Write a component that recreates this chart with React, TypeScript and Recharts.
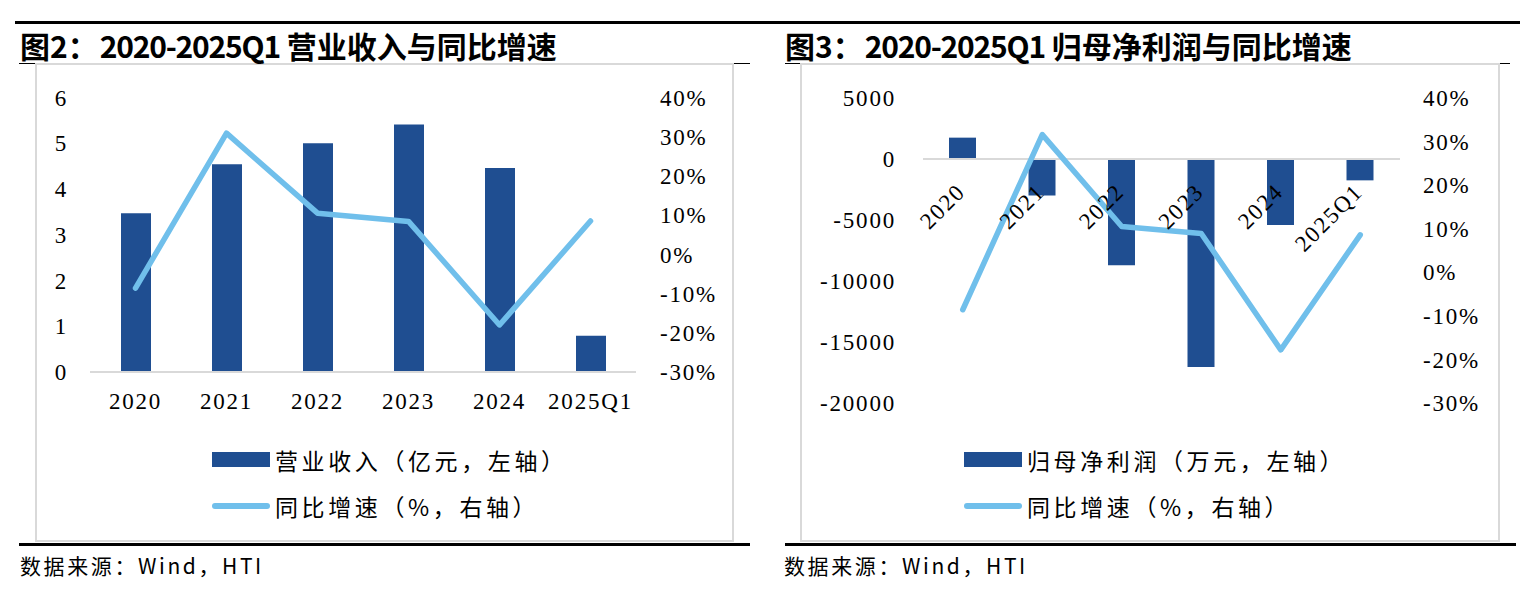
import React from "react";
import { ComposedChart, Bar, Line, XAxis, YAxis, ReferenceLine } from "recharts";

// categories and values
const years = ["2020", "2021", "2022", "2023", "2024", "2025Q1"];
const revenue = [3.47, 4.54, 5.0, 5.41, 4.46, 0.79]; // 亿元
const revenueYoY = [-8.6, 30.9, 10.5, 8.4, -18.0, 8.5]; // %
const netProfit = [1750, -3000, -8700, -17050, -5400, -1750]; // 万元
const profitYoY = [-8.6, 31.6, 10.5, 8.9, -17.8, 8.6]; // %

const revenueTicks = [0, 1, 2, 3, 4, 5, 6];
const profitTicks = [-20000, -15000, -10000, -5000, 0, 5000];
const pctTicks = [-30, -20, -10, 0, 10, 20, 30, 40];

const BAR = "#1F4E91";
const LINE = "#70BFEB";
const GRID = "#D9D9D9";
const SERIF = "'Liberation Serif', 'Times New Roman', serif";
const CJK = "'Noto Sans CJK SC', 'Noto Sans', sans-serif";

const revenueData = years.map((year, i) => ({ year, value: revenue[i], yoy: revenueYoY[i] }));
const profitData = years.map((year, i) => ({ year, value: netProfit[i], yoy: profitYoY[i] }));

const CHART_H = 479;
const PROFIT_TOP = 35;
const PROFIT_XAXIS_H = 139;
const PROFIT_PLOT_H = CHART_H - PROFIT_TOP - PROFIT_XAXIS_H;

const tickFont = { fontFamily: SERIF, fontSize: 23, letterSpacing: 1.8, fill: "#000" };

const YTick = ({ x, y, payload, anchor, fmt }: any) => (
  <text x={x} y={y} dy="0.355em" textAnchor={anchor} {...tickFont}>
    {fmt ? fmt(payload.value) : payload.value}
  </text>
);

const XTick = ({ x, y, payload }: any) => (
  <text x={x} y={y} dy="0.71em" textAnchor="middle" {...tickFont}>
    {payload.value}
  </text>
);

// labels of the profit chart sit under the zero line, rotated
const RotTick = ({ x, y, payload }: any) => {
  const lo = profitTicks[0];
  const hi = profitTicks[profitTicks.length - 1];
  const zeroY = y - (PROFIT_PLOT_H * (0 - lo)) / (hi - lo);
  const ax = x + 4;
  const ay = zeroY + 34;
  return (
    <text x={ax} y={ay} textAnchor="end" transform={`rotate(-45 ${ax} ${ay})`} {...tickFont}>
      {payload.value}
    </text>
  );
};

const pct = (v: number) => `${v}%`;

const abs = (s: React.CSSProperties): React.CSSProperties => ({ position: "absolute", ...s });

function Legend({ left, barLabel }: { left: number; barLabel: string }) {
  const txt: React.CSSProperties = {
    fontFamily: CJK,
    fontSize: 23,
    lineHeight: "23px",
    letterSpacing: 3.6,
    whiteSpace: "nowrap",
    color: "#000",
  };
  return (
    <>
      <div style={abs({ left, top: 452, width: 58, height: 15, background: BAR })} />
      <div style={abs({ left: left + 63, top: 448.5, ...txt })}>{barLabel}</div>
      <div style={abs({ left, top: 503, width: 58, height: 6, borderRadius: 3, background: LINE })} />
      <div style={abs({ left: left + 63, top: 494.5, ...txt })}>同比增速（%，右轴）</div>
    </>
  );
}

function Title({ left, num, text }: { left: number; num: string; text: string }) {
  return (
    <div
      style={abs({
        left,
        top: 30,
        fontFamily: CJK,
        fontWeight: 700,
        fontSize: 30,
        lineHeight: "30px",
        whiteSpace: "nowrap",
        color: "#000",
      })}
    >
      图{num}：<span style={{ letterSpacing: -1.2, marginLeft: 2 }}>2020-2025Q1</span> {text}
    </div>
  );
}

function Source({ left }: { left: number }) {
  return (
    <div
      style={abs({
        left,
        top: 554.5,
        fontFamily: CJK,
        fontSize: 21,
        lineHeight: "21px",
        letterSpacing: 2.6,
        whiteSpace: "nowrap",
        color: "#000",
      })}
    >
      数据来源：Wind，HTI
    </div>
  );
}

export default function App() {
  return (
    <div style={abs({ left: 0, top: 0, width: 1524, height: 594, background: "#fff", overflow: "hidden" })}>
      {/* rules */}
      <div style={abs({ left: 15, top: 21, width: 1505, height: 2.5, background: "#000" })} />
      <div style={abs({ left: 19, top: 62.5, width: 731, height: 1.5, background: "#000" })} />
      <div style={abs({ left: 785, top: 62.5, width: 725, height: 1.5, background: "#000" })} />
      <div style={abs({ left: 35, top: 63, width: 699, height: 479, boxSizing: "border-box", border: `2px solid ${GRID}` })} />
      <div style={abs({ left: 800, top: 63, width: 700, height: 479, boxSizing: "border-box", border: `2px solid ${GRID}` })} />
      <div style={abs({ left: 19, top: 543, width: 731, height: 2.5, background: "#000" })} />
      <div style={abs({ left: 785, top: 543, width: 731, height: 2.5, background: "#000" })} />

      <Title left={20} num="2" text="营业收入与同比增速" />
      <Title left={785} num="3" text="归母净利润与同比增速" />

      {/* 图2 */}
      <div style={abs({ left: 35, top: 63 })}>
        <ComposedChart width={699} height={CHART_H} data={revenueData} margin={{ top: 34.5, right: 0, bottom: 0, left: 0 }}>
          <XAxis
            dataKey="year"
            height={170}
            tickLine={false}
            tickSize={0}
            tickMargin={21}
            axisLine={{ stroke: GRID, strokeWidth: 2 }}
            tick={<XTick />}
            interval={0}
          />
          <YAxis
            yAxisId="left"
            width={55}
            domain={[0, 6]}
            ticks={revenueTicks}
            axisLine={false}
            tickLine={false}
            tickSize={0}
            tickMargin={22}
            tick={<YTick anchor="end" />}
          />
          <YAxis
            yAxisId="right"
            orientation="right"
            width={98}
            domain={[-30, 40]}
            ticks={pctTicks}
            axisLine={false}
            tickLine={false}
            tickSize={0}
            tickMargin={24}
            tick={<YTick anchor="start" fmt={pct} />}
          />
          <Bar yAxisId="left" dataKey="value" fill={BAR} barSize={30} isAnimationActive={false} />
          <Line
            yAxisId="right"
            dataKey="yoy"
            type="linear"
            stroke={LINE}
            strokeWidth={5.5}
            strokeLinejoin="round"
            strokeLinecap="round"
            dot={false}
            activeDot={false}
            isAnimationActive={false}
          />
        </ComposedChart>
      </div>

      {/* 图3 */}
      <div style={abs({ left: 800, top: 63 })}>
        <ComposedChart width={700} height={CHART_H} data={profitData} margin={{ top: PROFIT_TOP, right: 0, bottom: 0, left: 0 }}>
          <XAxis
            dataKey="year"
            height={PROFIT_XAXIS_H}
            axisLine={false}
            tickLine={false}
            tickSize={0}
            tickMargin={0}
            tick={<RotTick />}
            interval={0}
          />
          <YAxis
            yAxisId="left"
            width={123}
            domain={[profitTicks[0], profitTicks[profitTicks.length - 1]]}
            ticks={profitTicks}
            axisLine={false}
            tickLine={false}
            tickSize={0}
            tickMargin={27}
            tick={<YTick anchor="end" />}
          />
          <YAxis
            yAxisId="right"
            orientation="right"
            width={100}
            domain={[-30, 40]}
            ticks={pctTicks}
            axisLine={false}
            tickLine={false}
            tickSize={0}
            tickMargin={23}
            tick={<YTick anchor="start" fmt={pct} />}
          />
          <ReferenceLine yAxisId="left" y={0} stroke={GRID} strokeWidth={2} />
          <Bar yAxisId="left" dataKey="value" fill={BAR} barSize={27} isAnimationActive={false} />
          <Line
            yAxisId="right"
            dataKey="yoy"
            type="linear"
            stroke={LINE}
            strokeWidth={5.5}
            strokeLinejoin="round"
            strokeLinecap="round"
            dot={false}
            activeDot={false}
            isAnimationActive={false}
          />
        </ComposedChart>
      </div>

      <Legend left={212} barLabel="营业收入（亿元，左轴）" />
      <Legend left={964} barLabel="归母净利润（万元，左轴）" />

      <Source left={20} />
      <Source left={784} />
    </div>
  );
}
